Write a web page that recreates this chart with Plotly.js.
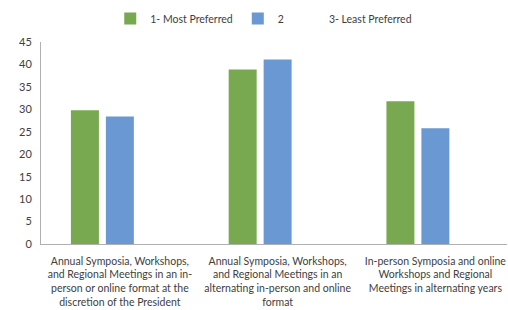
<!DOCTYPE html>
<html>
<head>
<meta charset="utf-8">
<script src="https://cdn.plot.ly/plotly-3.0.1.min.js"></script>
<style>html,body{margin:0;padding:0;background:#fff;overflow:hidden}#chart{width:508px;height:310px}</style>
</head>
<body>
<div id="chart"></div>
<script>
var categories = [
  "Annual Symposia, Workshops,<br>and Regional Meetings in an in-<br>person or online format at the<br>discretion of the President",
  "Annual Symposia, Workshops,<br>and Regional Meetings in an<br>alternating in-person and online<br>format",
  "In-person Symposia and online<br>Workshops and Regional<br>Meetings in alternating years"
];
var seriesNames = ["1- Most Preferred", "2", "3- Least Preferred"];
var mostPreferred = [29.8, 38.9, 31.8];
var secondPreferred = [28.4, 41.1, 25.8];
var leastPreferred = [null, null, null];
var yTicks = [0, 5, 10, 15, 20, 25, 30, 35, 40, 45];

var font = {family: "Lato, 'Open Sans', sans-serif", size: 11, color: "#404040"};
var xfont = {family: "Lato, 'Open Sans', sans-serif", size: 10.5, color: "#404040"};
var lfont = {family: "Lato, 'Open Sans', sans-serif", size: 10.5, color: "#404040"};
var traces = [
  {type: "bar", name: seriesNames[0], x: categories, y: mostPreferred, marker: {color: "#78a84f"}},
  {type: "bar", name: seriesNames[1], x: categories, y: secondPreferred, marker: {color: "#6a98d2"}},
  {type: "bar", name: seriesNames[2], x: categories, y: leastPreferred, marker: {color: "rgba(0,0,0,0)"}}
];
var layout = {
  width: 508, height: 310,
  margin: {l: 41, r: 1, t: 41.5, b: 66},
  paper_bgcolor: "#fff", plot_bgcolor: "#fff",
  font: font,
  barmode: "group", bargap: 0.335, bargroupgap: 0.2,
  showlegend: true,
  legend: {orientation: "h", x: 0.478, xanchor: "center", y: 1.116, yanchor: "middle", font: lfont, itemwidth: 30},
  xaxis: {type: "category", range: [-0.5, 2.454], showline: true, linecolor: "#b0b0b0", linewidth: 1,
          ticks: "", showgrid: false, zeroline: false, tickfont: xfont, ticklabelstandoff: 7, fixedrange: true},
  yaxis: {range: [0, 45], tickvals: yTicks, showline: true, linecolor: "#b0b0b0", linewidth: 1,
          ticks: "", showgrid: false, zeroline: false, tickfont: font, ticklabelstandoff: 6}
};
Plotly.newPlot("chart", traces, layout, {staticPlot: true, displayModeBar: false});
</script>
</body>
</html>
